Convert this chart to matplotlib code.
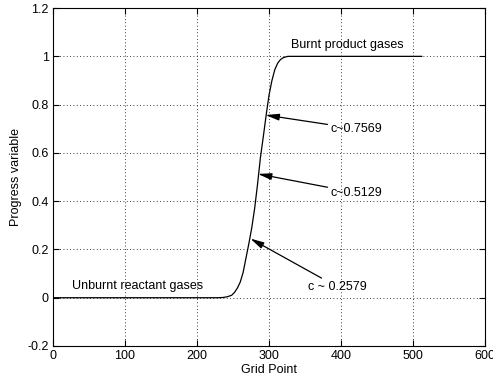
import matplotlib.pyplot as plt

# progress variable
grid_pt = [1, 228, 236, 242, 248, 252, 256, 260, 264, 268, 272, 276, 280, 284,
           288, 292, 296, 300, 304, 308, 312, 316, 320, 326, 512]
progress = [0, 0, 0.001, 0.004, 0.010, 0.022, 0.040, 0.065, 0.105, 0.165, 0.225,
            0.29, 0.37, 0.47, 0.58, 0.667, 0.757, 0.84, 0.90, 0.945, 0.972,
            0.987, 0.995, 1.0, 1.0]

# annotations: text, point on curve, text position
notes = [
    ('c~0.7569', (295, 0.7569), (385, 0.70)),
    ('c~0.5129', (284.5, 0.5129), (385, 0.435)),
    ('c ~ 0.2579', (274, 0.245), (354, 0.045)),
]

plt.rcParams['font.family'] = ['Liberation Sans', 'DejaVu Sans']
plt.rcParams['font.size'] = 9

fig = plt.figure(figsize=(4.93, 3.85), dpi=100)
ax = fig.add_axes([0.1075, 0.1013, 0.8765, 0.8777])

ax.plot(grid_pt, progress, color='k', lw=0.9)

for txt, xy, xytext in notes:
    ax.annotate(txt, xy=xy, xytext=xytext, va='center', ha='left',
                arrowprops=dict(arrowstyle='-|>,head_length=0.9,head_width=0.22',
                                color='k', lw=0.9, shrinkA=0, shrinkB=0))

ax.text(331, 1.047, 'Burnt product gases', va='center', ha='left')
ax.text(27, 0.048, 'Unburnt reactant gases', va='center', ha='left')

ax.set_xlim(0, 600)
ax.set_ylim(-0.2, 1.2)
ax.set_xticks(range(0, 601, 100))
ax.set_yticks([-0.2, 0, 0.2, 0.4, 0.6, 0.8, 1, 1.2])
ax.set_yticklabels(['-0.2', '0', '0.2', '0.4', '0.6', '0.8', '1', '1.2'])
ax.tick_params(direction='in', top=True, right=True, length=4, width=0.8, pad=3)
ax.grid(True, color='k', linestyle=(0, (1, 3)), lw=0.6)
for s in ax.spines.values():
    s.set_linewidth(0.8)

ax.set_xlabel('Grid Point', labelpad=1)
ax.set_ylabel('Progress variable', labelpad=4)

fig.savefig('out.png', dpi=100)
